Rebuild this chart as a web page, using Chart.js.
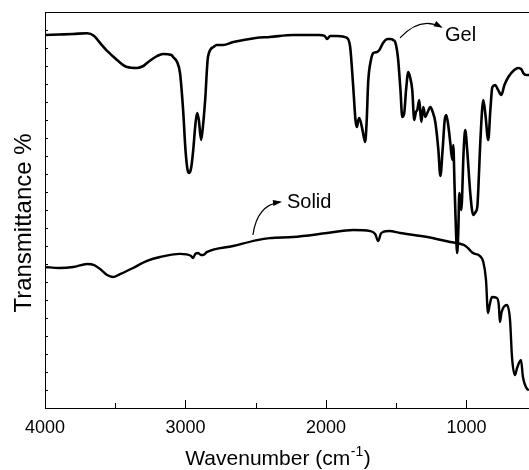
<!DOCTYPE html>
<html>
<head>
<meta charset="utf-8">
<script src="https://cdn.jsdelivr.net/npm/chart.js@4/dist/chart.umd.min.js"></script>
<style>
html,body{margin:0;padding:0;background:#fff;}
#wrap{width:529px;height:470px;position:relative;overflow:hidden;}
</style>
</head>
<body>
<div id="wrap"><canvas id="c" width="529" height="470"></canvas></div>
<script>
// ---- data (wavenumber in cm^-1, transmittance in arbitrary units) ----
const gelWavenumbers = [4000,3900,3800,3700,3650,3608,3550,3487,3416,3345,3300,3274,3200,3160,3100,3088,3060,3039,3017,3000,2985,2973,2960,2945,2930,2917,2905,2889,2875,2860,2840,2800,2778,2732,2660,2500,2400,2234,2050,2010,1992,1970,1920,1850,1828,1806,1790,1780,1770,1763,1740,1721,1710,1700,1680,1663,1637,1620,1594,1560,1543,1520,1507,1495,1486,1470,1457,1443,1430,1414,1400,1386,1372,1360,1350,1336,1322,1307,1293,1279,1257,1240,1222,1200,1186,1170,1155,1144,1130,1115,1101,1094,1085,1075,1066,1058,1051,1044,1037,1020,1009,995,973,952,935,923,910,902,880,865,845,830,816,795,775,752,730,702,660,631,610,596,575,555];
const gelTransmittance = [20.72,20.75,20.78,20.82,20.67,20.28,19.78,19.33,18.94,18.89,19.00,19.17,19.56,19.67,19.61,19.50,19.22,18.61,16.56,14.33,13.22,13.06,13.33,14.33,15.72,16.39,16.00,14.89,15.72,17.11,19.50,20.06,20.17,20.17,20.33,20.56,20.61,20.72,20.72,20.67,20.50,20.67,20.67,20.56,20.06,17.83,16.00,15.61,16.00,16.11,15.44,14.78,16.00,18.06,19.33,19.72,19.78,19.89,20.28,20.50,20.50,20.44,20.33,19.89,19.33,17.67,16.17,16.39,17.67,18.67,18.33,17.67,16.00,16.44,16.56,17.11,15.89,16.72,16.17,16.39,16.72,16.44,15.89,14.33,12.89,14.33,16.00,16.28,15.72,14.72,13.78,14.61,12.39,9.89,8.61,9.89,11.94,11.56,11.00,14.33,15.44,14.33,11.94,10.72,10.89,11.17,13.22,14.72,17.11,16.28,14.89,16.56,17.83,17.94,17.67,17.39,17.94,18.39,18.78,18.89,18.83,18.61,18.50,18.50];

const solidWavenumbers = [4000,3900,3800,3700,3650,3600,3558,3516,3466,3373,3274,3181,3039,2960,2946,2930,2910,2890,2875,2846,2661,2490,2400,2234,1992,1806,1685,1650,1628,1610,1594,1550,1472,1279,1115,1020,997,954,904,880,861,847,835,819,783,770,762,750,712,690,676,655,640,612,598,569,555];
const solidTransmittance = [7.83,7.78,7.83,8.00,7.94,7.67,7.39,7.28,7.44,7.78,8.17,8.39,8.56,8.44,8.33,8.56,8.61,8.50,8.50,8.67,9.00,9.33,9.44,9.50,9.72,9.89,9.83,9.67,9.28,9.67,9.78,9.83,9.72,9.50,9.22,9.06,8.94,8.61,8.44,8.11,7.11,5.28,5.72,6.17,6.11,5.72,4.78,5.33,5.72,4.89,2.83,1.83,2.22,2.67,1.72,1.06,1.00];

const xTickLabels = [4000,3000,2000,1000];
const xMinorTicks = [3500,2500,1500];
const seriesNames = ['Gel','Solid'];
const xTitle = ['Wavenumber (cm', '-1', ')'];
const yTitle = 'Transmittance %';

const toPoints = (xs, ys) => xs.map((x,i)=>({x:x, y:ys[i]}));
const FONT = '"Liberation Sans", Arial, sans-serif';

const frame = {
  id:'frame',
  afterDraw(chart){
    const ctx = chart.ctx, a = chart.chartArea;
    const xs = chart.scales.x, ys = chart.scales.y;
    ctx.save();
    ctx.strokeStyle = '#000';
    ctx.lineWidth = 1;
    // top border
    ctx.beginPath(); ctx.moveTo(a.left, a.top+0.5); ctx.lineTo(a.right, a.top+0.5); ctx.stroke();
    // x ticks (inward)
    xs.ticks.forEach(t=>{
      const px = Math.round(xs.getPixelForValue(t.value))+0.5;
      const len = xTickLabels.includes(t.value) ? 8 : 5;
      ctx.beginPath(); ctx.moveTo(px, a.bottom); ctx.lineTo(px, a.bottom-len); ctx.stroke();
    });
    // y ticks (inward)
    ys.ticks.forEach(t=>{
      const py = Math.round(ys.getPixelForValue(t.value))+0.5;
      ctx.beginPath(); ctx.moveTo(a.left, py); ctx.lineTo(a.left+3, py); ctx.stroke();
    });
    // annotations
    const P = (wx, v) => [xs.getPixelForValue(wx), ys.getPixelForValue(v)];
    const arrow = (s, c, e) => {
      ctx.lineWidth = 1.2;
      ctx.beginPath(); ctx.moveTo(s[0],s[1]); ctx.quadraticCurveTo(c[0],c[1],e[0],e[1]); ctx.stroke();
      const ang = Math.atan2(e[1]-c[1], e[0]-c[0]);
      const L = 7, W = 3;
      ctx.beginPath();
      ctx.moveTo(e[0]+Math.cos(ang)*2, e[1]+Math.sin(ang)*2);
      ctx.lineTo(e[0]-Math.cos(ang)*L - Math.sin(ang)*W, e[1]-Math.sin(ang)*L + Math.cos(ang)*W);
      ctx.lineTo(e[0]-Math.cos(ang)*L + Math.sin(ang)*W, e[1]-Math.sin(ang)*L - Math.cos(ang)*W);
      ctx.closePath(); ctx.fillStyle='#000'; ctx.fill();
    };
    arrow(P(1473,20.56), P(1331,21.78), P(1181,21.17));
    arrow(P(2520,9.61), P(2491,11.28), P(2327,11.44));
    ctx.fillStyle = '#000';
    ctx.font = '20px ' + FONT;
    ctx.textAlign = 'left'; ctx.textBaseline = 'middle';
    let g = P(1153,20.72); ctx.fillText(seriesNames[0], g[0], g[1]);
    let s = P(2278,11.44); ctx.fillText(seriesNames[1], s[0], s[1]);

    // x axis title with superscript
    ctx.textBaseline = 'alphabetic';
    const big = '21px ' + FONT, small = '14px ' + FONT;
    ctx.font = big; const w1 = ctx.measureText(xTitle[0]).width, w3 = ctx.measureText(xTitle[2]).width;
    ctx.font = small; const w2 = ctx.measureText(xTitle[1]).width;
    const total = w1 + w2 + w3 + 1;
    let x0 = 278 - total/2; const base = 465;
    ctx.font = big; ctx.fillText(xTitle[0], x0, base);
    ctx.font = small; ctx.fillText(xTitle[1], x0 + w1 + 0.5, base - 9);
    ctx.font = big; ctx.fillText(xTitle[2], x0 + w1 + w2 + 1, base);

    // y axis title
    ctx.save();
    ctx.translate(24, 223);
    ctx.rotate(-Math.PI/2);
    ctx.font = '24px ' + FONT;
    ctx.textAlign = 'center'; ctx.textBaseline = 'middle';
    ctx.fillText(yTitle, 0, 0);
    ctx.restore();
    ctx.restore();
  }
};

new Chart(document.getElementById('c'), {
  type:'line',
  data:{
    datasets:[
      {label:seriesNames[0], data:toPoints(gelWavenumbers, gelTransmittance), borderColor:'#000', borderWidth:2.6, pointRadius:0, cubicInterpolationMode:'monotone', fill:false},
      {label:seriesNames[1], data:toPoints(solidWavenumbers, solidTransmittance), borderColor:'#000', borderWidth:2.4, pointRadius:0, cubicInterpolationMode:'monotone', fill:false}
    ]
  },
  options:{
    responsive:false, animation:false, events:[],
    layout:{padding:{top:12, right:0, left:0, bottom:0}},
    plugins:{legend:{display:false}, tooltip:{enabled:false}},
    scales:{
      x:{
        type:'linear', reverse:true, min:555, max:4000,
        afterBuildTicks:(s)=>{ s.ticks = xTickLabels.concat(xMinorTicks).sort((a,b)=>b-a).map(v=>({value:v})); },
        ticks:{autoSkip:false, maxRotation:0, minRotation:0, color:'#000', padding:9,
          font:{family:FONT, size:18},
          callback:(v)=> xTickLabels.includes(v) ? String(v) : ''},
        grid:{display:false, drawTicks:false},
        border:{display:true, color:'#000', width:1},
        title:{display:false},
        afterFit:(s)=>{ s.height = 62; s.paddingLeft = 0; s.paddingRight = 0; }
      },
      y:{
        min:0, max:22,
        ticks:{display:false, stepSize:1},
        grid:{display:false, drawTicks:false},
        border:{display:true, color:'#000', width:1},
        title:{display:false},
        afterFit:(s)=>{ s.width = 45; }
      }
    }
  },
  plugins:[frame]
});
</script>
</body>
</html>
